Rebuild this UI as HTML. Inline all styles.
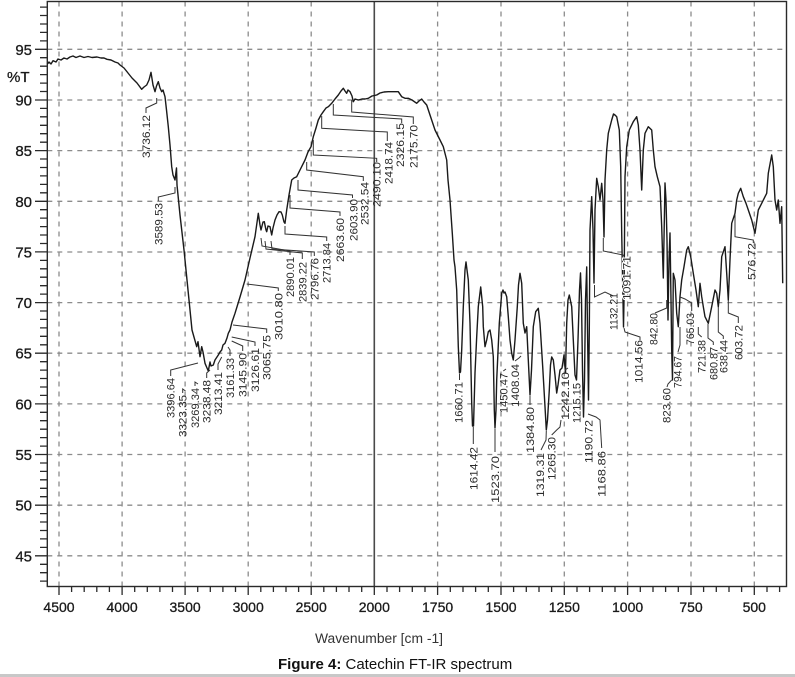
<!DOCTYPE html>
<html><head><meta charset="utf-8"><style>
html,body{margin:0;padding:0;background:#fff;}
svg{display:block;}
text{font-family:"Liberation Sans",Arial,sans-serif;}
</style></head><body>
<svg width="795" height="677" viewBox="0 0 795 677" xmlns="http://www.w3.org/2000/svg">
<rect x="0" y="0" width="795" height="677" fill="#fff"/>
<!-- grid -->
<g stroke="#8c8c8c" stroke-width="1.3" stroke-dasharray="5 5" fill="none">
<path d="M47.3 49.3H786.5M47.3 100H786.5M47.3 150.6H786.5M47.3 201.3H786.5M47.3 252H786.5M47.3 302.6H786.5M47.3 353.2H786.5M47.3 403.9H786.5M47.3 454.5H786.5M47.3 505.2H786.5M47.3 555.8H786.5"/>
<path d="M59 1.5V586.5M122.1 1.5V586.5M185.1 1.5V586.5M248.2 1.5V586.5M311.2 1.5V586.5M437.6 1.5V586.5M501 1.5V586.5M564.3 1.5V586.5M627.6 1.5V586.5M691 1.5V586.5M754.3 1.5V586.5"/>
</g>
<line x1="374.3" y1="1.5" x2="374.3" y2="586.5" stroke="#4a4a4a" stroke-width="1.6"/>
<!-- frame -->
<rect x="47.3" y="1.5" width="739.2" height="585" fill="none" stroke="#2a2a2a" stroke-width="1.4"/>
<!-- y ticks -->
<g stroke="#2a2a2a" stroke-width="1.3">
<path d="M35 49.3H47.3M35 100H47.3M35 150.6H47.3M35 201.3H47.3M35 251.9H47.3M35 302.6H47.3M35 353.2H47.3M35 403.9H47.3M35 454.5H47.3M35 505.2H47.3M35 555.8H47.3"/>
<path d="M40 7.1H47.3M40 15.5H47.3M40 24H47.3M40 32.4H47.3M40 40.9H47.3M40 57.7H47.3M40 66.2H47.3M40 74.6H47.3M40 83.1H47.3M40 91.5H47.3M40 108.4H47.3M40 116.8H47.3M40 125.3H47.3M40 133.7H47.3M40 142.2H47.3M40 159H47.3M40 167.5H47.3M40 175.9H47.3M40 184.4H47.3M40 192.8H47.3M40 209.7H47.3M40 218.1H47.3M40 226.6H47.3M40 235H47.3M40 243.5H47.3M40 260.4H47.3M40 268.8H47.3M40 277.2H47.3M40 285.7H47.3M40 294.1H47.3M40 311H47.3M40 319.4H47.3M40 327.9H47.3M40 336.3H47.3M40 344.8H47.3M40 361.7H47.3M40 370.1H47.3M40 378.5H47.3M40 387H47.3M40 395.4H47.3M40 412.3H47.3M40 420.7H47.3M40 429.2H47.3M40 437.6H47.3M40 446.1H47.3M40 463H47.3M40 471.4H47.3M40 479.8H47.3M40 488.3H47.3M40 496.7H47.3M40 513.6H47.3M40 522H47.3M40 530.5H47.3M40 538.9H47.3M40 547.4H47.3M40 564.3H47.3M40 572.7H47.3M40 581.1H47.3"/>
</g>
<!-- x ticks -->
<g stroke="#2a2a2a" stroke-width="1.3">
<path d="M59 586.5V595M122.1 586.5V595M185.1 586.5V595M248.2 586.5V595M311.2 586.5V595M374.3 586.5V595M437.6 586.5V595M501 586.5V595M564.3 586.5V595M627.6 586.5V595M691 586.5V595M754.3 586.5V595"/>
<path d="M71.6 586.5V592M84.2 586.5V592M96.8 586.5V592M109.4 586.5V592M134.7 586.5V592M147.3 586.5V592M159.9 586.5V592M172.5 586.5V592M197.7 586.5V592M210.3 586.5V592M222.9 586.5V592M235.5 586.5V592M260.8 586.5V592M273.4 586.5V592M286 586.5V592M298.6 586.5V592M323.8 586.5V592M336.4 586.5V592M349 586.5V592M361.7 586.5V592M387 586.5V592M399.6 586.5V592M412.3 586.5V592M425 586.5V592M450.3 586.5V592M463 586.5V592M475.6 586.5V592M488.3 586.5V592M513.6 586.5V592M526.3 586.5V592M539 586.5V592M551.6 586.5V592M577 586.5V592M589.6 586.5V592M602.3 586.5V592M615 586.5V592M640.3 586.5V592M653 586.5V592M665.6 586.5V592M678.3 586.5V592M703.6 586.5V592M716.3 586.5V592M729 586.5V592M741.6 586.5V592M767 586.5V592M779.6 586.5V592"/>
</g>
<!-- y labels -->
<g font-size="15" fill="#1a1a1a" stroke="#1a1a1a" stroke-width="0.3" text-anchor="end">
<text x="32" y="54.8">95</text>
<text x="32" y="105.5">90</text>
<text x="32" y="156.1">85</text>
<text x="32" y="206.8">80</text>
<text x="32" y="257.4">75</text>
<text x="32" y="308.1">70</text>
<text x="32" y="358.7">65</text>
<text x="32" y="409.4">60</text>
<text x="32" y="460">55</text>
<text x="32" y="510.7">50</text>
<text x="32" y="561.3">45</text>
</g>
<text x="7" y="82" font-size="15" fill="#1a1a1a" stroke="#1a1a1a" stroke-width="0.3">%T</text>
<!-- x labels -->
<g font-size="14" fill="#1a1a1a" stroke="#1a1a1a" stroke-width="0.3" text-anchor="middle">
<text x="59" y="612">4500</text>
<text x="122.1" y="612">4000</text>
<text x="185.1" y="612">3500</text>
<text x="248.2" y="612">3000</text>
<text x="311.2" y="612">2500</text>
<text x="374.3" y="612">2000</text>
<text x="437.6" y="612">1750</text>
<text x="501" y="612">1500</text>
<text x="564.3" y="612">1250</text>
<text x="627.6" y="612">1000</text>
<text x="691" y="612">750</text>
<text x="754.3" y="612">500</text>
</g>
<text x="315" y="643" font-size="13.5" fill="#333" textLength="128" lengthAdjust="spacingAndGlyphs">Wavenumber [cm -1]</text>
<text x="278" y="669" font-size="15" fill="#111"><tspan font-weight="bold">Figure 4:</tspan> Catechin FT-IR spectrum</text>
<rect x="0" y="674" width="795" height="3" fill="#c8c8c8"/>
<!-- spectrum -->
<polyline fill="none" stroke="#1a1a1a" stroke-width="1.4" stroke-linejoin="round" points="47.3,64 49,62 51,64 53,60.7 56,62 58,59 61,60 64,58 67,59 70,57 73,56 76,57.5 80,56 84,57.5 88,56.5 92,57.5 97,57 101,58 104,58 107,59.3 111,60 115,62 118,63 120,65 124,68 128,73 132,78 137,83 141.7,89.3 144,87 146.7,85 149,80 151,72.3 153,85 155,91.7 156.5,86 158.3,81.7 160,88 161.7,91.7 163,90 165,96.7 166.5,110 168.3,126.7 170,145 171.7,166.7 173,175 175,180 176.5,168 177,185 180,215 184,250 188,290 192,330 196.7,346.7 198,341.7 200,356.7 201.7,346.7 203,352 205,363.3 207,368 208.3,371 210,362 211,366 213.3,365 215,360 218.3,355 220,352 221.7,350 223,345 225,343.3 227,338 228.3,333.3 230,330 232,322 235,313.3 240,297 245,280 250,258 255,236.7 258.3,213.3 260,225 261,230 263,222 264.3,221.7 266,230 266.7,231.7 268,226 270,226.7 271.7,235 273,228 275,220 277,215 279,211.7 281,212 282.3,215 284,222 285,223.3 286.7,210 289,195 291.7,180 294,178 296.7,176.7 300,170 305,160 308,152 311,146.7 313.3,136.7 316,128 318.3,120 321,115 323.3,111.7 326,108 328.3,106.7 331.7,103.3 335,99 338.3,95 341,91 343.3,88.3 345,91 346.7,93.3 348,90 350,91.7 352,96 353.3,101.7 355,99 358.3,100 362,99 365,99 368.3,98.3 372,96 376.7,95 380,93 384,92 388.3,91.7 393,91.7 398.3,91.7 401.7,96.7 405,98.3 408.3,98.3 412,100 416.7,103.3 419,101 421.7,99 424,102 426.7,105 430,115 435,130 440,140 443.3,146.7 446.7,160 448,180 450,200 452.3,233.3 454,260 455,267 456.7,290 458.3,346.7 459.5,373 460.5,372 461.7,350 463.3,306.7 465,270 466,262 467,270 468.3,280 470,323 471.7,403 472.5,426 473.5,426 475,373 476.7,336.7 478.3,306.7 480.7,287 482.7,306.7 483.3,326.7 485,346.7 486.7,340 488.3,331.7 490,330 491.7,340 493.3,356.7 494.3,410 495,428 496,410 496.7,380 499.3,323.3 501.7,293.3 503,290 504,293 505,292 506.7,296.7 508.3,316.7 510,340 511.7,353.3 513.3,360 515,340 517.3,306.7 518.5,285 520,273.3 521.7,283.3 523.3,323.3 525,333 526.7,326.7 528.3,360 530,395 531.5,370 533.3,326.7 535.7,311.7 538.3,308.3 540,323.3 542.7,366.7 545,406.7 546.3,430 547.5,420 549.3,390 550.5,365 551.7,357 553.3,360 555,375 556.7,393 558,385 560,370 562,368 564,355 565.5,373 566.7,323.3 568,300 569.3,295 571.7,306.7 573.3,340 575,375 576.5,380 578,340 579.5,290 580.5,273 581.5,300 582.5,370 583.5,417 584.5,380 585.5,300 586.7,267 587.5,330 588.5,400 589.3,330 590,230 591.7,196.7 593,230 594,283 595,210 596.7,178.3 598.3,186.7 600,200 601.7,183.3 603,200 604,237 605,180 606.7,150 608.3,133.3 611.7,120 613.5,114 615,115 616.7,116.7 619.3,130 620.7,166.7 621.7,233 623,300 623.5,327 624,300 625,176.7 626.7,146.7 629.3,130 633.3,121.7 636.7,116.7 638.3,125 640,150 641.7,190 643.3,150 645,133.3 648.3,126.7 651.7,130 653.3,150 655,166.7 657.3,176.7 660,186.7 661.7,226.7 663.3,278 665,183 666,200 667,240 668,320 669,260 670,233 671,300 671.7,350 672.5,380 673.3,273.3 675,280 676.7,313.3 678.3,326.7 680,296.7 681.7,280 684,266.7 686.7,250 688.3,246.7 690.7,256.7 693.3,273.3 696,290 698.3,306.7 700,283.3 701.7,296.7 703.3,306.7 705,316.7 708.3,323.3 711.7,306.7 715,290 716.7,293.3 718.3,306.7 720,290 721.7,256.7 725,246.7 726.7,273.3 728.3,300 730,260 731.7,223.3 735,213.3 736.7,200 738.3,193.3 740.7,188.3 743.3,196.7 746,203.3 748.3,210 751.7,220 755,233.3 758.3,210 761.7,203.3 765,196.7 766.7,193.3 768.3,173.3 771.7,155 773.3,166.7 775,200 776.7,210 778.3,200 780,223.3 781.7,206.7 782.7,283.3"/>
<!-- leaders -->
<g fill="none" stroke="#333" stroke-width="1">
<polyline points="156.7,98 156.7,103 146,108 146,113"/>
<polyline points="175,187 175,193 158.3,197 158.3,201"/>
<polyline points="198,363 170.7,370 170.7,376"/>
<polyline points="182.7,393 182.7,389 185.5,391"/>
<polyline points="195,386 195,382 198,384"/>
<polyline points="206.7,378 206.7,373 210,370"/>
<polyline points="218,370 218,364 221.7,357"/>
<polyline points="230,356 230,350 228,347"/>
<polyline points="242.7,351 242.7,346 231.7,341"/>
<polyline points="255,346 255,342 231.7,337"/>
<polyline points="266.7,333 266.7,329 233,325"/>
<polyline points="278.3,291 278.3,288 246.7,284"/>
<polyline points="261,238 262,246 290,251 290,255"/>
<polyline points="265,241 266,249 302.3,253 302.3,259"/>
<polyline points="271,241 272,249 314.3,252 314.3,256"/>
<polyline points="285,226 285,234 326.7,237 326.7,241"/>
<polyline points="290,195 290,208 340,212 340,216"/>
<polyline points="298,180 298,190 352.5,195 352.5,198"/>
<polyline points="306.7,162 306.7,170 363.3,176.7 363.3,181"/>
<polyline points="313.3,140 313.3,155 376.7,158.3 376.7,162"/>
<polyline points="321.7,116 321.7,128.3 387.3,132 387.3,141"/>
<polyline points="333.3,104 333.3,115 401.7,119 401.7,123"/>
<polyline points="351.7,100 351.7,112 413.3,117 413.3,124"/>
<polyline points="459.5,374 459.5,380"/>
<polyline points="473.3,427 473.3,444"/>
<polyline points="495,429 495,452"/>
<polyline points="503.3,371 506,369"/>
<polyline points="515,361 519,358 521,356"/>
<polyline points="530,396 530,405"/>
<polyline points="546.3,431 546,440 541,450"/>
<polyline points="551.7,435 556.7,430 560,427 561,420"/>
<polyline points="565,370 568,368"/>
<polyline points="588,414 596,417 600,420 601.7,448"/>
<polyline points="594.5,285 594.5,297 605,292 613.3,296"/>
<polyline points="603.3,238 603.3,251 623.3,255 624.5,258"/>
<polyline points="624,328 625,332 640,337 640,340"/>
<polyline points="666.7,300 666.7,308 655,313"/>
<polyline points="671.7,380 668,384 667,387"/>
<polyline points="680,327 680,345 678,352"/>
<polyline points="680,297 685,299 691.7,303 691.7,311"/>
<polyline points="698.3,327 698.3,334 701.7,337"/>
<polyline points="708,324 708,338 713.3,342 713.3,345"/>
<polyline points="718.3,307 718.3,332 723.3,336 723.3,339"/>
<polyline points="728.3,300 728.3,313 738.3,317 738.3,323"/>
<polyline points="735,214 735,236.7 753.3,240 753.3,243"/>
</g>
<!-- peak labels -->
<g font-size="11" fill="#2a2a2a">
<text transform="translate(150,158) rotate(-90)" textLength="43" lengthAdjust="spacingAndGlyphs">3736.12</text>
<text transform="translate(162.3,245) rotate(-90)" textLength="42" lengthAdjust="spacingAndGlyphs">3589.53</text>
<text transform="translate(174.7,418) rotate(-90)" textLength="40" lengthAdjust="spacingAndGlyphs">3396.64</text>
<text transform="translate(186.7,437) rotate(-90)" textLength="42" lengthAdjust="spacingAndGlyphs">3323.35</text>
<text transform="translate(199,428) rotate(-90)" textLength="40" lengthAdjust="spacingAndGlyphs">3269.34</text>
<text transform="translate(210.7,423) rotate(-90)" textLength="43" lengthAdjust="spacingAndGlyphs">3238.48</text>
<text transform="translate(222,415) rotate(-90)" textLength="43" lengthAdjust="spacingAndGlyphs">3213.41</text>
<text transform="translate(234,398) rotate(-90)" textLength="40" lengthAdjust="spacingAndGlyphs">3161.33</text>
<text transform="translate(246.7,397) rotate(-90)" textLength="44" lengthAdjust="spacingAndGlyphs">3145.90</text>
<text transform="translate(259,392) rotate(-90)" textLength="44" lengthAdjust="spacingAndGlyphs">3126.61</text>
<text transform="translate(270.7,380) rotate(-90)" textLength="45" lengthAdjust="spacingAndGlyphs">3065.75</text>
<text transform="translate(282.3,340) rotate(-90)" textLength="47" lengthAdjust="spacingAndGlyphs">3010.80</text>
<text transform="translate(294,297) rotate(-90)" textLength="40" lengthAdjust="spacingAndGlyphs">2890.01</text>
<text transform="translate(306.3,302) rotate(-90)" textLength="40" lengthAdjust="spacingAndGlyphs">2839.22</text>
<text transform="translate(318.3,300) rotate(-90)" textLength="42" lengthAdjust="spacingAndGlyphs">2796.76</text>
<text transform="translate(330.7,283) rotate(-90)" textLength="40" lengthAdjust="spacingAndGlyphs">2713.84</text>
<text transform="translate(344,262) rotate(-90)" textLength="44" lengthAdjust="spacingAndGlyphs">2663.60</text>
<text transform="translate(357.3,241) rotate(-90)" textLength="42" lengthAdjust="spacingAndGlyphs">2603.90</text>
<text transform="translate(368.3,225) rotate(-90)" textLength="43" lengthAdjust="spacingAndGlyphs">2532.54</text>
<text transform="translate(380.7,207) rotate(-90)" textLength="45" lengthAdjust="spacingAndGlyphs">2490.10</text>
<text transform="translate(392.3,184) rotate(-90)" textLength="42" lengthAdjust="spacingAndGlyphs">2418.74</text>
<text transform="translate(404,167) rotate(-90)" textLength="44" lengthAdjust="spacingAndGlyphs">2326.15</text>
<text transform="translate(417.3,168) rotate(-90)" textLength="43" lengthAdjust="spacingAndGlyphs">2175.70</text>
<text transform="translate(462.3,423) rotate(-90)" textLength="41" lengthAdjust="spacingAndGlyphs">1660.71</text>
<text transform="translate(477.3,490) rotate(-90)" textLength="43" lengthAdjust="spacingAndGlyphs">1614.42</text>
<text transform="translate(499,503) rotate(-90)" textLength="47" lengthAdjust="spacingAndGlyphs">1523.70</text>
<text transform="translate(507.3,413) rotate(-90)" textLength="40" lengthAdjust="spacingAndGlyphs">1450.47</text>
<text transform="translate(519,407) rotate(-90)" textLength="43" lengthAdjust="spacingAndGlyphs">1408.04</text>
<text transform="translate(534,453) rotate(-90)" textLength="46" lengthAdjust="spacingAndGlyphs">1384.80</text>
<text transform="translate(544,497) rotate(-90)" textLength="44" lengthAdjust="spacingAndGlyphs">1319.31</text>
<text transform="translate(555.7,480) rotate(-90)" textLength="43" lengthAdjust="spacingAndGlyphs">1265.30</text>
<text transform="translate(569,420) rotate(-90)" textLength="48" lengthAdjust="spacingAndGlyphs">1242.10</text>
<text transform="translate(580.7,423) rotate(-90)" textLength="40" lengthAdjust="spacingAndGlyphs">1215.15</text>
<text transform="translate(592.3,463) rotate(-90)" textLength="43" lengthAdjust="spacingAndGlyphs">1190.72</text>
<text transform="translate(605.7,497) rotate(-90)" textLength="46" lengthAdjust="spacingAndGlyphs">1168.86</text>
<text transform="translate(617.3,330) rotate(-90)" textLength="37" lengthAdjust="spacingAndGlyphs">1132.21</text>
<text transform="translate(630.7,300) rotate(-90)" textLength="44" lengthAdjust="spacingAndGlyphs" stroke="#fff" stroke-width="2" paint-order="stroke">1091.71</text>
<text transform="translate(642.3,383) rotate(-90)" textLength="43" lengthAdjust="spacingAndGlyphs">1014.56</text>
<text transform="translate(657.3,345) rotate(-90)" textLength="32" lengthAdjust="spacingAndGlyphs">842.80</text>
<text transform="translate(670.7,423) rotate(-90)" textLength="35" lengthAdjust="spacingAndGlyphs">823.60</text>
<text transform="translate(681.7,388) rotate(-90)" textLength="32" lengthAdjust="spacingAndGlyphs">794.67</text>
<text transform="translate(694,345) rotate(-90)" textLength="32" lengthAdjust="spacingAndGlyphs">765.03</text>
<text transform="translate(705.7,373) rotate(-90)" textLength="33" lengthAdjust="spacingAndGlyphs">721.38</text>
<text transform="translate(717.3,380) rotate(-90)" textLength="33" lengthAdjust="spacingAndGlyphs">680.87</text>
<text transform="translate(727.3,373) rotate(-90)" textLength="33" lengthAdjust="spacingAndGlyphs">638.44</text>
<text transform="translate(742.3,360) rotate(-90)" textLength="35" lengthAdjust="spacingAndGlyphs">603.72</text>
<text transform="translate(755.7,280) rotate(-90)" textLength="37" lengthAdjust="spacingAndGlyphs">576.72</text>
</g>
</svg>
</body></html>
